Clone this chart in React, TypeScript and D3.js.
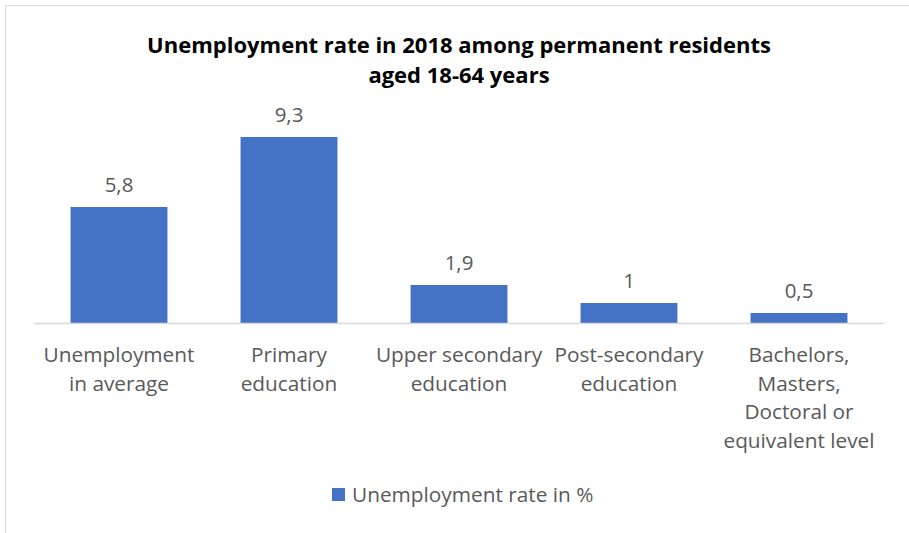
import React from "react";
import * as d3 from "d3";

const categories: string[][] = [
  ["Unemployment", "in average"],
  ["Primary", "education"],
  ["Upper secondary", "education"],
  ["Post-secondary", "education"],
  ["Bachelors,", "Masters,", "Doctoral or", "equivalent level"],
];
const values: number[] = [5.8, 9.3, 1.9, 1, 0.5];
const valueLabels: string[] = ["5,8", "9,3", "1,9", "1", "0,5"];
const titleLines: string[] = [
  "Unemployment rate in 2018 among permanent residents",
  "aged 18-64 years",
];
const seriesName = "Unemployment rate in %";

const W = 909;
const H = 533;
const FONT = "'Open Sans', 'Noto Sans', sans-serif";
const BAR = "#4472C4";
const GREY = "#595959";

export default function App() {
  const idx = categories.map((_, i) => String(i));
  const x = d3.scaleBand<string>().domain(idx).range([34, 884]).paddingInner(0.43).paddingOuter(0.215);
  const y = d3.scaleLinear().domain([0, 10]).range([323, 123]);

  return (
    <svg width={W} height={H} style={{ position: "absolute", left: 0, top: 0 }} fontFamily={FONT}>
      <rect x={0} y={0} width={W} height={H} fill="#fff" />
      <line x1={5.5} y1={5.5} x2={W} y2={5.5} stroke="#d9d9d9" strokeWidth={1} />
      <line x1={5.5} y1={5.5} x2={5.5} y2={H} stroke="#d9d9d9" strokeWidth={1} />
      {titleLines.map((t, i) => (
        <text key={i} x={459} y={53 + i * 30} textAnchor="middle" fontWeight="bold" fontSize={22} fill="#000">
          {t}
        </text>
      ))}
      {values.map((v, i) => (
        <rect key={i} x={x(String(i))} y={y(v)} width={x.bandwidth()} height={y(0) - y(v)} fill={BAR} />
      ))}
      <line x1={34} x2={884} y1={323.5} y2={323.5} stroke="#d9d9d9" strokeWidth={1.5} />
      {values.map((v, i) => (
        <text key={i} x={(x(String(i)) as number) + x.bandwidth() / 2} y={y(v) - 15} textAnchor="middle" fontSize={20.5} fill={GREY}>
          {valueLabels[i]}
        </text>
      ))}
      {categories.map((lines, i) =>
        lines.map((l, j) => (
          <text key={i + "-" + j} x={(x(String(i)) as number) + x.bandwidth() / 2} y={362 + j * 28.5} textAnchor="middle" fontSize={20.8} fill={GREY}>
            {l}
          </text>
        ))
      )}
      <rect x={332} y={488} width={13} height={13} fill={BAR} />
      <text x={352} y={502} fontSize={20.8} fill={GREY}>
        {seriesName}
      </text>
    </svg>
  );
}
